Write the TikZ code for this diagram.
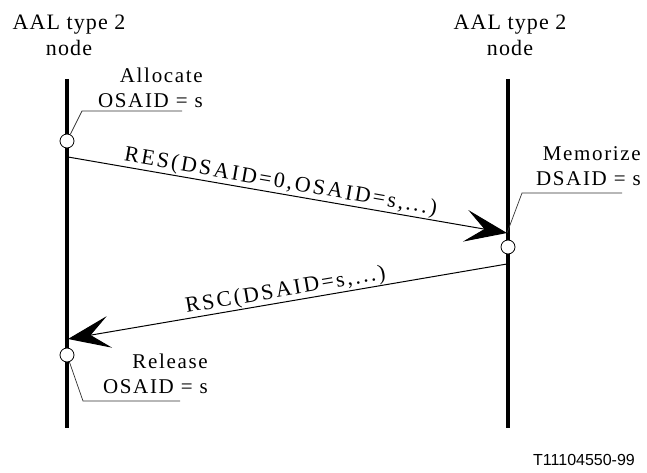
\documentclass[tikz,border=0pt]{standalone}
\usepackage{fontspec}
\setmainfont{Liberation Serif}
\newfontfamily\titlefont[LetterSpace=5]{Liberation Serif}
\newfontfamily\spacedfont[LetterSpace=8]{Liberation Serif}
\newfontfamily\msgfont[LetterSpace=11]{Liberation Serif}
\newfontfamily\codefont{Liberation Sans}
\usetikzlibrary{arrows.meta,positioning}

\begin{document}
\begin{tikzpicture}[
    x=1pt, y=-1pt,
    lifeline/.style={
        line width=4.5pt
    },
    title/.style={
        align=center,
        inner sep=0pt,
        font=\fontsize{22}{26}\titlefont
    },
    remark/.style={
        align=right,
        anchor=east,
        inner sep=0pt,
        font=\fontsize{21}{25}\spacedfont
    },
    event/.style={
        circle,
        draw,
        fill=white,
        line width=0.8pt,
        minimum size=14pt,
        inner sep=0pt
    },
    message/.style={
        -{Stealth[length=42pt, width=32pt, inset=19pt]},
        line width=1pt
    },
    msglabel/.style={
        font=\fontsize{22}{26}\msgfont,
        sloped,
        above,
        inner sep=0.5pt
    },
    leader/.style={
        line width=0.7pt,
        color=black!80
    }
]
\useasboundingbox (0,0) rectangle (647,473);

% Node titles
\node[title] (lefttitle) at (69,35) {AAL type 2\\node};
\node[title] (righttitle) at (510,35) {AAL type 2\\node};

% Lifelines
\coordinate (lefttop) at (67,79);
\coordinate (leftbot) at (67,428);
\coordinate (righttop) at (508,79);
\coordinate (rightbot) at (508,428);
\draw[lifeline] (lefttop) -- (leftbot);
\draw[lifeline] (righttop) -- (rightbot);

% Messages
\coordinate (resstart) at (68,157);
\coordinate (restip) at (507,233);
\coordinate (rscstart) at (507,264);
\coordinate (rsctip) at (68,339);
\draw[message] (resstart) -- node[msglabel, pos=0.48] {RES(DSAID=0,OSAID=s,...)} (restip);
\draw[message] (rscstart) -- node[msglabel] {RSC(DSAID=s,...)} (rsctip);

% Events on the lifelines
\node[event] (alloccirc) at (67,141) {};
\node[event] (memocirc) at (508,247) {};
\node[event] (relcirc) at (67,355) {};

% Remarks with leaders
\node[remark] (allocate) at (203,88) {Allocate\\OSAID = s};
\node[remark] (memorize) at (641,166) {Memorize\\DSAID = s};
\node[remark] (release) at (208,374) {Release\\OSAID = s};

\coordinate (allockink) at (82,111);
\coordinate (allocend) at (182,111);
\coordinate (memokink) at (522,193);
\coordinate (memoend) at (622,193);
\coordinate (relkink) at (83,401);
\coordinate (relend) at (180,401);
\draw[leader] (alloccirc) -- (allockink) -- (allocend);
\draw[leader] (restip) -- (memokink) -- (memoend);
\draw[leader] (relcirc) -- (relkink) -- (relend);

% Figure number
\node[font=\fontsize{16}{18}\codefont] (fignum) at (584,460) {T11104550-99};

\end{tikzpicture}
\end{document}
